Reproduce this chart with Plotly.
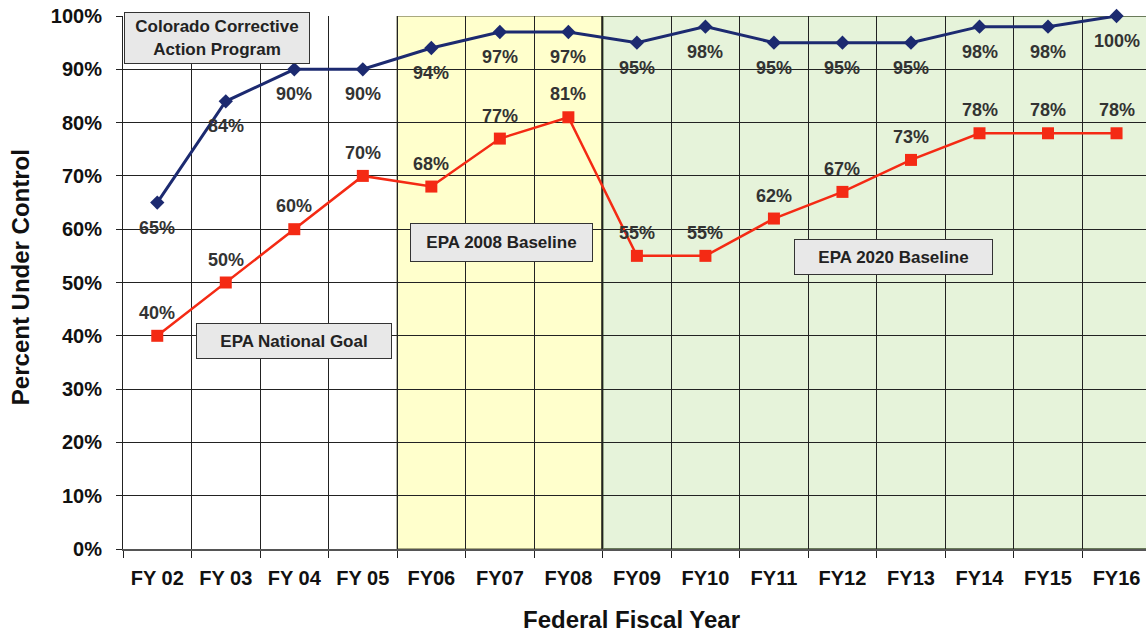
import plotly.graph_objects as go

years = ["FY 02", "FY 03", "FY 04", "FY 05", "FY06", "FY07", "FY08",
         "FY09", "FY10", "FY11", "FY12", "FY13", "FY14", "FY15", "FY16"]
colorado = [65, 84, 90, 90, 94, 97, 97, 95, 98, 95, 95, 95, 98, 98, 100]
epa_goal = [40, 50, 60, 70, 68, 77, 81, 55, 55, 62, 67, 73, 78, 78, 78]
y_ticks = [0, 10, 20, 30, 40, 50, 60, 70, 80, 90, 100]

FONT = "Liberation Sans, Arial, sans-serif"
idx = list(range(len(years)))

fig = go.Figure()

fig.add_trace(go.Scatter(
    x=idx, y=epa_goal, mode="lines+markers",
    line=dict(color="#f42a14", width=2.5),
    marker=dict(symbol="square", size=12, color="#f42a14"),
    cliponaxis=False, showlegend=False, name="EPA National Goal"))

fig.add_trace(go.Scatter(
    x=idx, y=colorado, mode="lines+markers",
    line=dict(color="#1c2a70", width=3),
    marker=dict(symbol="diamond", size=11, color="#1c2a70"),
    cliponaxis=False, showlegend=False, name="Colorado"))

anns = []
for i, v in enumerate(colorado):
    anns.append(dict(x=i, y=v, text=f"{v}%", showarrow=False, yshift=-25,
                     font=dict(family=FONT, size=18, color="#333333", weight="bold")))
for i, v in enumerate(epa_goal):
    anns.append(dict(x=i, y=v, text=f"{v}%", showarrow=False, yshift=23,
                     font=dict(family=FONT, size=18, color="#333333", weight="bold")))

boxes = [
    ("Colorado Corrective<br>Action Program", 0.87, 95.8, 178, 44),
    ("EPA 2008 Baseline", 5.03, 57.5, 175, 31),
    ("EPA National Goal", 1.99, 39.0, 188, 28),
    ("EPA 2020 Baseline", 10.74, 54.8, 191, 28),
]
for txt, bx, by, w, h in boxes:
    anns.append(dict(x=bx, y=by, text=txt, showarrow=False, width=w, height=h,
                     bgcolor="#e8e8e8", bordercolor="#333333", borderwidth=1,
                     borderpad=3, align="center", valign="middle",
                     font=dict(family=FONT, size=17, color="#222222", weight="bold")))

# axis titles
anns.append(dict(xref="paper", yref="paper", x=0.4966, y=-0.1332,
                 text="Federal Fiscal Year", showarrow=False,
                 xanchor="center", yanchor="middle",
                 font=dict(family=FONT, size=24, color="#111111", weight="bold")))
anns.append(dict(xref="paper", yref="paper", x=-0.1007, y=0.51,
                 text="Percent Under Control", showarrow=False, textangle=-90,
                 xanchor="center", yanchor="middle",
                 font=dict(family=FONT, size=24, color="#111111", weight="bold")))

shapes = [
    dict(type="rect", xref="x", yref="y", x0=3.5, x1=6.5, y0=0, y1=100,
         fillcolor="#ffffcc", line=dict(color="#555533", width=1), layer="below"),
    dict(type="rect", xref="x", yref="y", x0=6.5, x1=15, y0=0, y1=100,
         fillcolor="#e6f3da", line=dict(color="#6a7a5a", width=2), layer="below"),
    dict(type="line", xref="x", yref="y", x0=6.49, x1=6.49, y0=0, y1=100,
         line=dict(color="#333322", width=1.5), layer="below"),
]

fig.update_layout(
    width=1146, height=629,
    margin=dict(l=123, r=0, t=16, b=80, autoexpand=False),
    paper_bgcolor="white", plot_bgcolor="white",
    annotations=anns, shapes=shapes,
    font=dict(family=FONT, color="#111111"),
    xaxis=dict(
        tickmode="array", tickvals=idx, ticktext=years,
        range=[-0.5, 14.43], automargin=False,
        showgrid=False, zeroline=False,
        tickfont=dict(family=FONT, size=20, color="#111111", weight="bold"),
        ticks="", ticklabelstandoff=10, ticklabeloverflow="allow",
        showline=True, linecolor="#555555", linewidth=1.5,
        minor=dict(tickmode="array", tickvals=[i + 0.5 for i in range(-1, 15)],
                   showgrid=True, gridcolor="#222222", gridwidth=1,
                   ticks="outside", ticklen=7, tickcolor="#222222"),
    ),
    yaxis=dict(
        range=[0, 100], tickmode="array", tickvals=y_ticks,
        ticktext=[f"{t}%" for t in y_ticks], automargin=False,
        showgrid=True, gridcolor="#222222", gridwidth=1, zeroline=False,
        ticks="outside", ticklen=6, tickcolor="#222222",
        ticklabelstandoff=10, ticklabeloverflow="allow",
        showline=True, linecolor="#222222", linewidth=1,
        tickfont=dict(family=FONT, size=20, color="#111111", weight="bold"),
    ),
)

fig.write_html("out.html", config={"displayModeBar": False},
               post_script="document.body.style.margin='0';")
